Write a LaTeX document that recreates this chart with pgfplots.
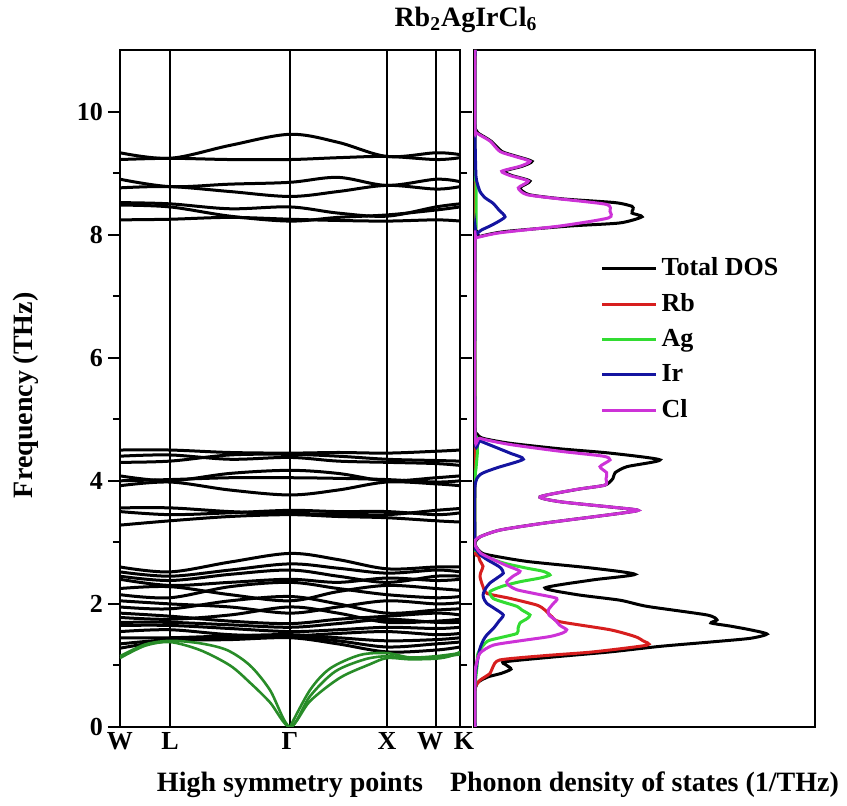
\documentclass[border=0pt]{standalone}
\usepackage{fontspec}
\setmainfont{Liberation Serif}
\usepackage{pgfplots}
\usepackage{pgfplotstable}
\pgfplotsset{compat=1.18}
\definecolor{cRb}{RGB}{215,30,30}
\definecolor{cAg}{RGB}{50,220,50}
\definecolor{cIr}{RGB}{20,20,160}
\definecolor{cCl}{RGB}{205,50,215}
\definecolor{cAc}{RGB}{40,140,40}

\pgfplotstableread{
x   A1   A2   A3   A4   A5   A6   A7   A8   A9   A10  A11  A12  A13  A14  A15  A16  B1   B2   B3   B4   B5   B6   B7   B8   B9   C1   C2   C3   C4   C5   C6   C7
0   2.60 2.52 2.40 2.25 2.15 2.05 1.95 1.85 1.78 1.65 1.55 1.45 1.35 1.28 2.45 1.70 4.50 4.30 4.40 4.08 3.92 4.00 3.56 3.28 3.50 9.33 9.22 8.90 8.76 8.52 8.24 8.48
50  2.52 2.45 2.30 2.28 2.10 2.00 1.92 1.80 1.75 1.65 1.58 1.45 1.42 1.40 2.38 1.70 4.50 4.32 4.42 4.00 3.98 4.02 3.56 3.35 3.45 9.24 9.24 8.78 8.78 8.50 8.25 8.45
110 2.68 2.55 2.35 2.15 2.28 1.95 2.05 1.72 1.82 1.60 1.50 1.48 1.45 1.42 2.48 1.66 4.46 4.42 4.35 4.12 3.85 4.05 3.50 3.42 3.48 9.45 9.22 8.82 8.70 8.42 8.28 8.30
170 2.82 2.65 2.40 2.05 2.35 1.85 2.12 1.68 1.95 1.55 1.48 1.50 1.47 1.45 2.55 1.62 4.45 4.43 4.38 4.17 3.77 4.05 3.47 3.45 3.52 9.63 9.22 8.85 8.62 8.45 8.25 8.22
218 2.72 2.58 2.35 2.20 2.25 1.95 2.00 1.75 1.85 1.58 1.52 1.45 1.40 1.35 2.45 1.68 4.46 4.40 4.32 4.12 3.85 4.04 3.46 3.42 3.50 9.50 9.25 8.93 8.70 8.35 8.23 8.28
267 2.57 2.50 2.42 2.30 2.15 2.05 1.85 1.80 1.70 1.62 1.55 1.40 1.30 1.22 2.35 1.75 4.45 4.35 4.30 4.00 3.98 4.02 3.45 3.40 3.50 9.27 9.27 8.80 8.80 8.30 8.22 8.32
316 2.60 2.55 2.38 2.25 2.10 2.00 1.90 1.85 1.72 1.60 1.50 1.42 1.35 1.25 2.45 1.70 4.48 4.33 4.28 4.05 3.95 3.98 3.52 3.35 3.45 9.33 9.22 8.90 8.74 8.45 8.24 8.40
340 2.60 2.52 2.40 2.22 2.12 2.02 1.92 1.82 1.75 1.62 1.52 1.45 1.38 1.30 2.45 1.70 4.50 4.32 4.25 4.08 3.92 4.00 3.55 3.33 3.48 9.30 9.25 8.86 8.78 8.50 8.22 8.45
}\bands

\pgfplotstableread{
f d
0 0
0.60 0
0.66 1
0.71 2
0.76 6
0.82 14
0.87 26
0.94 36
1.01 31
1.06 30
1.14 80
1.22 135
1.31 185
1.38 235
1.44 275
1.51 292
1.58 275
1.64 255
1.69 236
1.74 242
1.82 232
1.96 172
2.06 145
2.15 102
2.26 70
2.39 118
2.48 160
2.58 118
2.69 52
2.80 12
2.85 5
2.93 1
3.00 0
3.09 5
3.20 25
3.31 68
3.45 135
3.52 163
3.57 138
3.66 85
3.74 65
3.86 102
3.93 130
4.04 138
4.13 140
4.23 152
4.34 185
4.45 135
4.52 85
4.61 35
4.69 8
4.76 2
4.85 0
7.90 0
7.97 5
8.05 30
8.14 95
8.19 145
8.29 167
8.35 157
8.41 158
8.46 157
8.52 140
8.58 88
8.65 54
8.76 45
8.87 55
8.96 37
9.03 29
9.11 47
9.19 57
9.27 42
9.35 27
9.52 16
9.65 3
9.70 1
9.78 0
11 0
}\tdos

\pgfplotstableread{
f d
0 0
0.60 0
0.66 0.5
0.76 5
0.87 15
0.98 18
1.09 25
1.16 70
1.22 118
1.33 172
1.40 168
1.47 160
1.58 135
1.71 85
1.79 77
1.90 70
1.98 62
2.09 35
2.17 12
2.28 8
2.44 5
2.52 6
2.61 8
2.70 5
2.80 3
2.90 0
4.40 0
4.50 1
4.60 0
11 0
}\rb

\pgfplotstableread{
f d
0 0
0.70 0
0.76 0.5
0.98 2
1.20 3
1.39 12
1.45 25
1.52 42
1.60 43
1.69 45
1.76 52
1.82 55
1.90 47
1.96 42
2.03 28
2.09 18
2.20 15
2.29 28
2.36 45
2.42 65
2.47 75
2.53 68
2.58 52
2.65 32
2.72 18
2.80 6
2.88 1
2.95 0
4.00 0
4.20 1
4.50 2.5
4.70 1.5
4.80 0
8.00 0
8.10 1
8.50 1
8.90 1
9.00 0
11 0
}\ag

\pgfplotstableread{
f d
0 0
0.80 0
0.87 0.5
1.00 1.5
1.14 3.3
1.28 5
1.41 8.3
1.50 12
1.60 18.3
1.72 24
1.82 28.3
1.92 20
2.01 11.7
2.10 8.5
2.17 8.3
2.26 11
2.34 15
2.42 22
2.50 28.3
2.58 26
2.63 21.7
2.72 12
2.80 5
2.88 1.7
2.95 0
3.90 0
4.10 5
4.21 21.7
4.35 48.3
4.45 35
4.56 18.3
4.65 5
4.72 0
7.95 0
8.00 1
8.07 6
8.14 15
8.20 22
8.29 30
8.40 24
8.51 18
8.60 10
8.70 5
8.85 2
8.95 1
9.20 0.5
9.70 0
11 0
}\ir

\pgfplotstableread{
f d
0 0
0.85 0
1.00 1
1.20 5
1.33 18.3
1.40 45
1.47 75
1.53 88
1.58 91.7
1.65 85
1.74 80
1.82 74
1.90 73.3
2.00 78
2.09 81.7
2.16 62
2.23 41.7
2.30 34
2.36 31.7
2.45 38
2.53 45
2.62 32
2.72 18.3
2.82 6
2.90 2
2.96 0
3.03 0
3.09 5
3.20 25
3.31 68.3
3.45 135
3.52 163.3
3.57 138.3
3.66 85
3.74 65
3.86 101.7
3.93 130
4.03 131
4.13 131.7
4.23 125
4.34 135
4.40 128.3
4.48 85
4.59 35
4.69 5
4.78 0
7.90 0
7.95 1.7
8.03 25
8.14 85
8.27 133.3
8.38 135
8.49 131.7
8.58 85
8.65 51.7
8.76 43.3
8.87 53.3
8.96 35
9.03 26.7
9.11 45
9.19 55
9.27 40
9.35 25
9.52 15
9.65 1.7
9.71 0
11 0
}\cl

\begin{document}
\begin{tikzpicture}
\useasboundingbox (0,0) rectangle (423.5pt,403pt);
\begin{axis}[
  at={(60pt,39.5pt)}, anchor=south west,
  scale only axis, width=170pt, height=338.5pt,
  xmin=0, xmax=340, ymin=0, ymax=11,
  xtick={0,50,170,267,316,340},
  xticklabels={W,L,Γ,X,{\hspace*{-6pt}W},{\hspace*{4pt}K}},
  xmajorgrids, major grid style={black, line width=1pt},
  xtick align=inside, ytick align=outside,
  ytick={0,2,4,6,8,10}, yticklabels={0,2,4,6,8,10},
  minor y tick num=1, ytick pos=both,
  major tick length=6pt, minor tick length=3.5pt,
  tick style={black, line width=1pt},
  axis line style={line width=1.3pt},
  tick label style={font=\bfseries\fontsize{13}{15}\selectfont},
  xticklabel style={yshift=1pt},
  yticklabel style={xshift=1pt},
  xlabel={High symmetry points},
  ylabel={Frequency (THz)},
  label style={font=\bfseries\fontsize{14}{16}\selectfont},
  xlabel style={at={(axis description cs:0.5,-0.0857)}, anchor=center},
  ylabel style={at={(axis description cs:-0.276,0.49)}, anchor=center},
  clip=true,
]
\pgfplotsinvokeforeach{A1,A2,A3,A4,A5,A6,A7,A8,A9,A10,A11,A12,A13,A14,A15,A16,B1,B2,B3,B4,B5,B6,B7,B8,B9,C1,C2,C3,C4,C5,C6,C7}{
  \addplot[black, line width=1.5pt, smooth, tension=0.55] table[x=x, y=#1] {\bands};
}
\addplot[cAc, line width=1.3pt, smooth, tension=0.5] coordinates {
 (0,1.12) (25,1.32) (50,1.38) (80,1.25) (110,1.00) (130,0.72) (150,0.40) (170,0)
 (190,0.42) (220,0.80) (250,1.02) (267,1.12) (290,1.10) (316,1.11) (330,1.15) (340,1.22)};
\addplot[cAc, line width=1.3pt, smooth, tension=0.5] coordinates {
 (0,1.15) (25,1.34) (50,1.40) (80,1.36) (107,1.25) (130,1.00) (150,0.60) (170,0)
 (190,0.50) (215,0.90) (245,1.10) (267,1.15) (290,1.12) (316,1.13) (340,1.18)};
\addplot[cAc, line width=1.3pt, smooth, tension=0.5] coordinates {
 (170,0) (190,0.60) (210,0.95) (240,1.17) (267,1.20) (290,1.13) (316,1.15) (340,1.20)};
\end{axis}

\begin{axis}[
  at={(237pt,39.5pt)}, anchor=south west,
  scale only axis, width=170.5pt, height=338.5pt,
  xmin=-1, xmax=340, ymin=0, ymax=11,
  xtick=\empty, ytick=\empty,
  axis line style={line width=1.3pt},
  xlabel={Phonon density of states (1/THz)},
  label style={font=\bfseries\fontsize{14}{16}\selectfont},
  xlabel style={at={(axis description cs:0.5,-0.0857)}, anchor=center},
  legend style={at={(0.37,0.70)}, anchor=north west, draw=none, fill=none,
    font=\bfseries\fontsize{13}{15}\selectfont, row sep=3.5pt, inner sep=0pt},
  legend cell align=left,
  legend image code/.code={\draw[#1, line width=1.5pt] (0pt,0pt) -- (27pt,0pt);},
]
\addplot[black, line width=1.5pt, smooth, tension=0.4] table[x=d, y=f] {\tdos};
\addlegendentry{Total DOS}
\addplot[cRb, line width=1.5pt, smooth, tension=0.4] table[x=d, y=f] {\rb};
\addlegendentry{Rb}
\addplot[cAg, line width=1.5pt, smooth, tension=0.4] table[x=d, y=f] {\ag};
\addlegendentry{Ag}
\addplot[cIr, line width=1.5pt, smooth, tension=0.4] table[x=d, y=f] {\ir};
\addlegendentry{Ir}
\addplot[cCl, line width=1.5pt, smooth, tension=0.4] table[x=d, y=f] {\cl};
\addlegendentry{Cl}
\end{axis}

\node[font=\bfseries\fontsize{14}{16}\selectfont] at (233pt,393pt) {Rb\textsubscript{2}AgIrCl\textsubscript{6}};
\end{tikzpicture}
\end{document}
